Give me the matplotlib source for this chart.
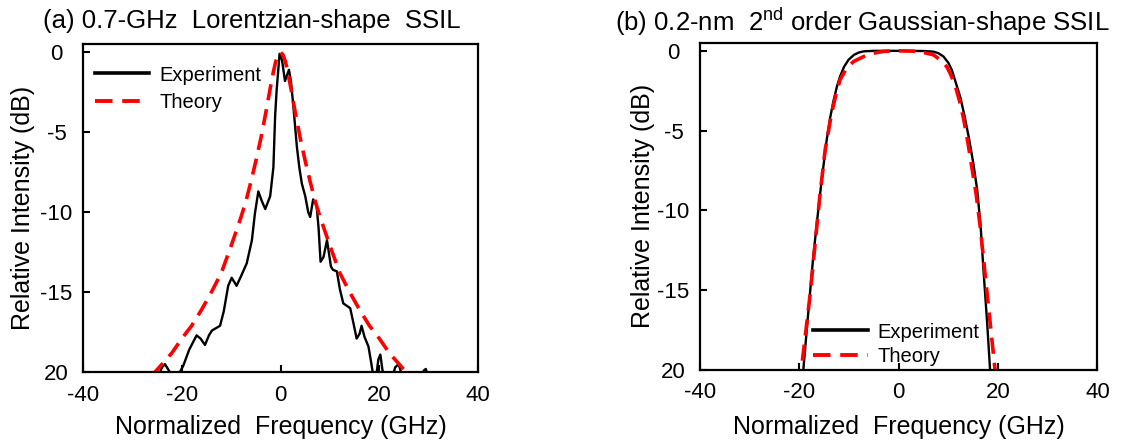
import matplotlib
matplotlib.use("Agg")
import matplotlib.pyplot as plt

plt.rcParams['font.family'] = ['Liberation Sans', 'DejaVu Sans']
plt.rcParams['mathtext.fontset'] = 'custom'
plt.rcParams['mathtext.rm'] = 'Liberation Sans'
plt.rcParams['axes.unicode_minus'] = False

# (a) Lorentzian-shape SSIL (GHz, dB)
exp_a_f = [-26, -24.7, -24.0, -23.4, -22.8, -22.0, -21.2, -20.4, -19.7, -18.5, -17.0, -16.2,
           -15.3, -14.5, -13.9, -12.25, -11.5, -10.6, -9.9, -8.9, -8.0, -6.85, -5.8, -5.2,
           -4.5, -3.8, -3.1, -2.1, -1.45, -1.1, -0.8, -0.2, 0.3, 0.9, 1.7, 2.1, 2.6, 3.3,
           3.8, 4.3, 5.0, 5.6, 6.0, 6.6, 7.3, 7.7, 8.1, 8.7, 9.4, 10.2, 10.6, 11.4, 12.0,
           12.7, 14.1, 14.8, 15.4, 16.0, 16.4, 17.0, 17.8, 18.4, 18.8, 19.3, 19.8, 20.2,
           20.6, 21.0, 22.5, 23.2, 23.9, 24.5, 25.0, 28.5, 29.0, 29.4, 29.9, 31]
exp_a_db = [-21, -20.2, -19.7, -19.5, -19.8, -20.2, -20.1, -20.0, -19.6, -18.6, -17.7, -17.9,
            -18.3, -17.7, -17.4, -17.1, -16.2, -14.6, -14.1, -14.6, -14.0, -13.2, -11.75, -10.1,
            -8.7, -9.3, -9.8, -9.0, -7.2, -4.0, -2.4, -0.1, -0.5, -1.8, -1.1, -1.8, -3.4, -5.9,
            -7.2, -8.2, -9.0, -10.0, -10.3, -9.2, -9.6, -11.0, -13.1, -12.8, -11.75, -13.4, -13.6, -13.7, -14.8,
            -15.7, -16.0, -17.0, -17.9, -17.6, -17.1, -17.8, -18.4, -19.5, -20.3, -20.4, -19.2, -18.9,
            -19.8, -20.5, -20.5, -19.7, -19.5, -20.1, -20.5, -20.5, -19.9, -19.8, -20.3, -21]

theo_a_f = [-26, -24, -22, -20, -18, -16, -14, -12, -10, -8, -7, -6, -5, -4, -3, -2, -1.5, -1, -0.5,
            0, 0.5, 1, 1.5, 2, 3, 4, 5, 6, 7, 8, 10, 12, 14, 16, 18, 20, 22, 24, 26]
theo_a_db = [-20.2, -19.5, -18.8, -17.9, -17.1, -16.1, -15.0, -13.8, -12.1, -10.3, -9.3, -8.1, -6.8,
             -5.4, -3.8, -2.1, -1.3, -0.6, -0.17, 0, -0.17, -0.6, -1.3, -2.1, -3.8, -5.4, -6.8, -8.1,
             -9.3, -10.3, -12.1, -13.8, -15.0, -16.1, -17.1, -17.9, -18.8, -19.5, -20.2]

# (b) 2nd order Gaussian-shape SSIL
exp_b_f = [-19.4, -19.2, -18.2, -17.2, -16.3, -15.5, -14.5, -13.8, -13.1, -12.4, -11.8, -11.0,
           -10.1, -9.0, -8.0, -7.0, -5.0, 0, 5.0, 7.0, 8.0, 9.0, 10.0, 10.7, 11.5, 12.4, 13.2,
           14.1, 15.0, 15.8, 16.5, 17.1, 17.8, 18.4, 18.6]
exp_b_db = [-21, -20, -16.4, -12.9, -10.3, -8.1, -5.6, -4.2, -3.1, -2.2, -1.6, -1.0,
            -0.56, -0.25, -0.1, -0.03, 0, 0, -0.01, -0.05, -0.15, -0.35, -0.75, -1.2, -2.0, -2.9, -4.0,
            -5.4, -7.0, -8.7, -11.0, -13.9, -17.0, -20, -21]

theo_b_f = [-19.8, -19.6, -18.7, -17.8, -16.8, -15.8, -14.8, -13.5, -12.6, -11.8, -10.5, -9.1, -7.0,
            -5.1, -3.0, 0, 3.0, 5.0, 7.0, 8.5, 9.7, 10.5, 11.4, 12.3, 13.1, 13.9, 14.7, 15.6, 16.4,
            17.1, 17.8, 18.6, 19.4, 19.6]
theo_b_db = [-21, -20, -17.6, -15.2, -12.0, -8.9, -6.2, -3.9, -2.7, -1.8, -1.1, -0.67, -0.35,
             -0.15, -0.03, 0, -0.02, -0.1, -0.25, -0.6, -1.0, -1.5, -2.2, -3.2, -4.3, -5.7, -7.25, -9.0,
             -11.0, -13.1, -15.2, -17.6, -20, -21]

xticks = [-40, -20, 0, 20, 40]
yticks = [0, -5, -10, -15, -20]
ytick_labels = ['0', '-5', '-10', '-15', '20']

fig = plt.figure(figsize=(11.29, 4.42), dpi=100)
ax1 = fig.add_axes([0.0735, 0.158, 0.350, 0.742])
ax2 = fig.add_axes([0.620, 0.163, 0.352, 0.740])


def style(ax, ylab_x, xlab_y):
    ax.set_xlim(-40, 40)
    ax.set_ylim(-20, 0.5)
    ax.set_xticks(xticks)
    ax.set_yticks(yticks)
    ax.set_yticklabels(ytick_labels)
    ax.tick_params(direction='in', length=5, width=1.5, labelsize=16, top=False, right=False)
    ax.tick_params(axis='x', pad=9)
    ax.tick_params(axis='y', pad=19)
    for lab in ax.get_yticklabels():
        lab.set_horizontalalignment('center')
    for s in ax.spines.values():
        s.set_linewidth(1.6)
    ax.set_xlabel('Normalized  Frequency (GHz)', fontsize=18, va='center')
    ax.set_ylabel('Relative Intensity (dB)', fontsize=18, va='center')
    ax.xaxis.set_label_coords(0.5, xlab_y)
    ax.yaxis.set_label_coords(ylab_x, 0.5)


def legend(ax, anchor, spacing):
    leg = ax.legend(loc='upper left', bbox_to_anchor=anchor, frameon=False, fontsize=14.5,
                    handlelength=2.7, handletextpad=0.5, labelspacing=spacing,
                    borderpad=0, borderaxespad=0)
    leg.get_lines()[0].set_linewidth(2.6)
    leg.get_lines()[1].set_linewidth(2.8)


ax1.plot(exp_a_f, exp_a_db, color='black', lw=1.7, label='Experiment')
ax1.plot(theo_a_f, theo_a_db, color='red', lw=2.6, dashes=(4.5, 2.5), label='Theory')
style(ax1, -0.152, -0.168)
legend(ax1, (0.03, 0.935), 0.4)

ax2.plot(exp_b_f, exp_b_db, color='black', lw=1.7, label='Experiment')
ax2.plot(theo_b_f, theo_b_db, color='red', lw=2.6, dashes=(4.5, 2.5), label='Theory')
style(ax2, -0.144, -0.174)
legend(ax2, (0.285, 0.145), 0.25)

fig.text(43 / 1129, 0.952, '(a) 0.7-GHz  Lorentzian-shape  SSIL', fontsize=18.5, ha='left', va='center')
fig.text(615 / 1129, 0.952, r'(b) 0.2-nm  2$^{\mathrm{nd}}$ order Gaussian-shape SSIL', fontsize=18.5,
         ha='left', va='center')

fig.savefig('out.png', dpi=100)
